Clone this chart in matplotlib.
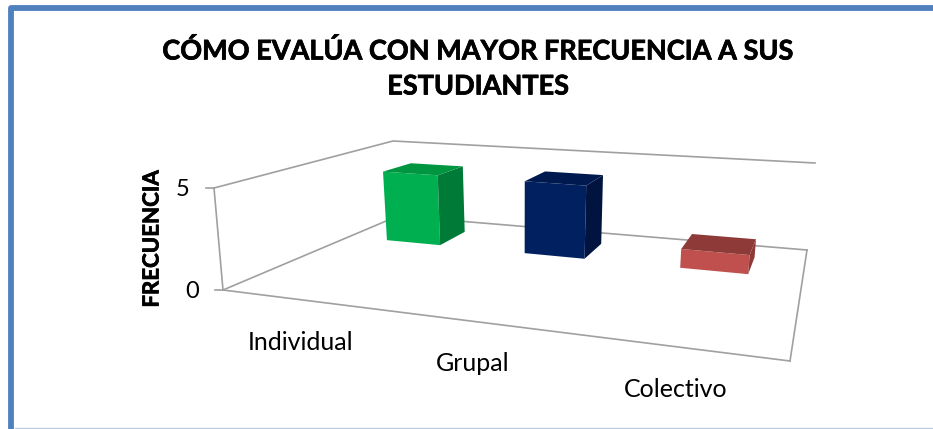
import numpy as np
import matplotlib
matplotlib.use("Agg")
import matplotlib.pyplot as plt
import matplotlib.patheffects as pe

categories = ["Individual", "Grupal", "Colectivo"]
values = [4, 4, 1]
value_ticks = [0, 5]
title = "CÓMO EVALÚA CON MAYOR FRECUENCIA A SUS\nESTUDIANTES"
y_label = "FRECUENCIA"

VMAX = 5
# esquinas del piso y altura del grafico 3D, en pixeles (fl, fr, br, bl)
FLOOR = [(223, 290), (790, 361), (807, 250), (398, 216)]
RISE = np.array([(-9, -102), (10, -115), (8, -87), (-5, -75)], float)


def homography(corners):
    src = [(0, 0), (3, 0), (3, 1), (0, 1)]
    A, b = [], []
    for (u, d), (x, y) in zip(src, corners):
        A.append([u, d, 1, 0, 0, 0, -u * x, -d * x])
        A.append([0, 0, 0, u, d, 1, -u * y, -d * y])
        b += [x, y]
    h = np.linalg.solve(np.array(A, float), np.array(b, float))
    return np.append(h, 1).reshape(3, 3)


H_FLOOR = homography(FLOOR)


def proj(u, d, v=0):
    p = H_FLOOR @ [u, d, 1]
    p = p[:2] / p[2]
    f = u / 3
    rise = (1 - d) * ((1 - f) * RISE[0] + f * RISE[1]) + d * ((1 - f) * RISE[3] + f * RISE[2])
    return tuple(p + rise * v / VMAX)


plt.rcParams["font.family"] = ["Lato", "DejaVu Sans"]
fig = plt.figure(figsize=(9.33, 4.29), dpi=100)
ax = fig.add_axes([0, 0, 1, 1])
ax.set_xlim(0, 933)
ax.set_ylim(429, 0)
ax.axis("off")

# marco
ax.plot([11, 11, 933], [429, 7.5, 7.5], color="#4f81bd", lw=4.2, solid_joinstyle="round")
ax.plot([15, 933], [427.5, 427.5], color="#b9cde5", lw=1)

# ejes
grid = "#a0a0a0"
for a, b in [((0, 0), (3, 0)), ((3, 0), (3, 1)), ((3, 1), (0, 1)), ((0, 1), (0, 0))]:
    ax.plot(*zip(proj(*a), proj(*b)), color=grid, lw=1.2, zorder=1)
ax.plot(*zip(proj(0, 0), proj(0, 0, VMAX)), color=grid, lw=1.2, zorder=1)
ax.plot(*zip(proj(0, 0, VMAX), proj(0, 1, VMAX), proj(3, 1, VMAX)), color=grid, lw=1.2, zorder=1)

for t in value_ticks:
    x, y = proj(0, 0, t)
    ax.plot([x - 8, x], [y, y], color=grid, lw=1.2, zorder=1)
    ax.text(x - 24.5, y + 1, str(t), ha="right", va="center", fontsize=17)

bar_colors = [("#00b050", "#00953f", "#007a37"),
              ("#002060", "#001a4f", "#00143f"),
              ("#c0504d", "#8e3a38", "#8e3a38")]
bar_w = 0.4
d0, d1 = 0.65, 0.85
for i, (cat, val) in enumerate(zip(categories, values)):
    u0, u1 = i + 0.495 - bar_w / 2, i + 0.495 + bar_w / 2
    front, top, side = bar_colors[i]
    ax.fill(*zip(proj(u0, d0), proj(u1, d0), proj(u1, d0, val), proj(u0, d0, val)), color=front, lw=0, zorder=3)
    ax.fill(*zip(proj(u1, d0), proj(u1, d1), proj(u1, d1, val), proj(u1, d0, val)), color=side, lw=0, zorder=3)
    ax.fill(*zip(proj(u0, d0, val), proj(u1, d0, val), proj(u1, d1, val), proj(u0, d1, val)), color=top, lw=0, zorder=3)
    x, y = proj(i + 0.5, 0)
    ax.text(x, y + 42.5, cat, ha="center", va="center", fontsize=18)

heavy = [pe.withStroke(linewidth=0.5, foreground="black")]
ax.text(478, 68.5, title, ha="center", va="center", fontsize=19.5, fontweight="bold",
        linespacing=1.55, path_effects=heavy)
ax.text(152, 239, y_label, rotation=90, ha="center", va="center", fontsize=16, fontweight="bold",
        path_effects=heavy)

fig.savefig("out.png", dpi=100)
